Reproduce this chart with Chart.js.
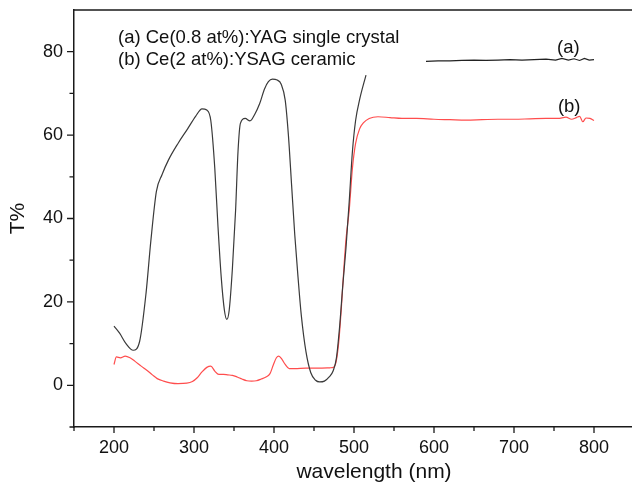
<!DOCTYPE html>
<html>
<head>
<meta charset="utf-8">
<script src="https://cdn.jsdelivr.net/npm/chart.js@4.4.1/dist/chart.umd.min.js"></script>
<style>
    html, body { margin: 0; padding: 0; background: #fff; overflow: hidden; }
    #wrap { width: 680px; height: 483px; }
</style>
</head>
<body>
<div id="wrap"><canvas id="chart" width="680" height="483"></canvas></div>
<script>
// ── Dados ──
// (a) Ce(0.8 at%):YAG — curva principal
const WL_A = [200, 207, 215, 224, 232, 240, 246, 253, 260, 268, 280, 292, 302, 310, 316, 321, 326, 330, 334, 338, 341, 344, 348, 352, 355, 358, 364, 370, 376, 382, 388, 393, 398, 404, 409, 414, 418, 422, 426, 430, 434, 440, 446, 452, 457, 463, 469, 474, 478, 482, 486, 490, 494, 498, 502, 507, 515];
const T_A  = [14.2, 12.5, 10.0, 8.4, 10.5, 22.0, 34.5, 46.5, 50.5, 54.0, 58.0, 61.5, 64.5, 66.3, 66.0, 63.5, 52.0, 38.0, 26.0, 18.0, 15.8, 18.0, 28.0, 42.0, 56.0, 62.8, 64.0, 63.4, 65.0, 67.5, 71.0, 72.8, 73.4, 73.2, 72.2, 68.4, 60.0, 48.0, 36.0, 26.0, 17.0, 8.0, 3.0, 1.2, 0.8, 1.0, 2.0, 3.5, 6.5, 14.0, 24.0, 33.0, 44.0, 56.0, 63.5, 68.5, 74.4];
// (a) trecho plano 590–800 nm
const WL_A2 = [590, 605, 620, 635, 650, 665, 680, 695, 710, 725, 740, 752, 760, 768, 775, 782, 788, 794, 800];
const T_A2  = [77.7, 77.8, 77.8, 77.9, 78.0, 77.9, 78.0, 78.1, 78.0, 78.1, 78.2, 78.0, 78.4, 78.0, 78.3, 77.9, 78.4, 78.0, 78.1];
// (b) Ce(2 at%):YSAG
const WL_B = [200, 203, 208, 214, 220, 226, 234, 241, 248, 254, 262, 270, 280, 291, 298, 304, 310, 316, 321, 326, 331, 337, 342, 348, 354, 360, 366, 372, 378, 384, 390, 395, 399, 403, 406, 410, 414, 419, 426, 440, 455, 470, 475, 478, 481, 484, 487, 490, 494, 498, 502, 507, 512, 519, 530, 545, 560, 578, 600, 620, 640, 660, 680, 700, 720, 740, 755, 765, 772, 778, 782, 786, 790, 795, 800];
const T_B  = [5.0, 6.8, 6.6, 7.0, 6.6, 5.8, 4.6, 3.6, 2.5, 1.6, 1.0, 0.6, 0.4, 0.5, 0.9, 1.8, 3.2, 4.3, 4.6, 3.4, 2.6, 2.6, 2.5, 2.4, 2.0, 1.5, 1.1, 1.0, 1.1, 1.5, 2.0, 2.8, 4.8, 6.6, 7.0, 6.2, 5.0, 4.0, 4.0, 4.1, 4.1, 4.2, 4.4, 6.0, 10.5, 18.0, 27.0, 35.0, 42.0, 52.0, 58.0, 61.5, 63.0, 64.0, 64.4, 64.2, 64.0, 64.0, 63.8, 63.7, 63.6, 63.7, 63.8, 63.8, 63.9, 64.0, 64.0, 64.3, 63.8, 64.2, 64.5, 63.2, 64.1, 64.0, 63.5];

// ── Eixos ──
const X_MIN = 150, X_MAX = 900;
const Y_MIN = -10, Y_MAX = 90;
const X_TICKS = [200, 300, 400, 500, 600, 700, 800];
const X_MINOR = [150, 250, 350, 450, 550, 650, 750, 850];
const Y_TICKS = [0, 20, 40, 60, 80];
const Y_MINOR = [-10, 10, 30, 50, 70];

// ── Anotações (coordenadas em unidades dos eixos) ──
const NOTAS = [
    { text: '(a) Ce(0.8 at%):YAG single crystal', x: 205, y: 83.3, align: 'left' },
    { text: '(b) Ce(2 at%):YSAG ceramic',          x: 205, y: 78.0, align: 'left' },
    { text: '(a)', x: 768, y: 81.0, align: 'center' },
    { text: '(b)', x: 769, y: 66.8, align: 'center' },
];

const FONTE = 'Arial, "Liberation Sans", sans-serif';
const EIXO  = '#1a1a1a';
const PRETO = '#3a3a3a';
const VERMELHO = '#ff4d4d';

const pares = (xs, ys) => xs.map((v, i) => ({ x: v, y: ys[i] }));

// Moldura superior/direita, ticks maiores/menores e textos
const moldura = {
    id: 'moldura',
    afterDraw(chart) {
        const { ctx, chartArea: a, scales: { x, y } } = chart;
        ctx.save();
        ctx.strokeStyle = EIXO;
        ctx.lineWidth = 1.5;
        ctx.beginPath();
        ctx.moveTo(a.left, a.top);
        ctx.lineTo(a.right, a.top);
        ctx.lineTo(a.right, a.bottom);
        ctx.stroke();

        ctx.lineWidth = 1.3;
        ctx.beginPath();
        X_TICKS.forEach(v => { const p = x.getPixelForValue(v); ctx.moveTo(p, a.bottom); ctx.lineTo(p, a.bottom + 6); });
        X_MINOR.forEach(v => { const p = x.getPixelForValue(v); ctx.moveTo(p, a.bottom); ctx.lineTo(p, a.bottom + 4); });
        Y_TICKS.forEach(v => { const p = y.getPixelForValue(v); ctx.moveTo(a.left, p); ctx.lineTo(a.left - 7, p); });
        Y_MINOR.forEach(v => { const p = y.getPixelForValue(v); ctx.moveTo(a.left, p); ctx.lineTo(a.left - 4.5, p); });
        ctx.stroke();

        ctx.fillStyle = '#111';
        ctx.font = '18.5px ' + FONTE;
        ctx.textBaseline = 'middle';
        NOTAS.forEach(n => {
            ctx.textAlign = n.align;
            ctx.fillText(n.text, x.getPixelForValue(n.x), y.getPixelForValue(n.y));
        });
        ctx.restore();
    }
};

new Chart(document.getElementById('chart'), {
    type: 'line',
    data: {
        datasets: [
            { data: pares(WL_A, T_A),   borderColor: PRETO,    borderWidth: 1.2 },
            { data: pares(WL_A2, T_A2), borderColor: '#222',   borderWidth: 1.2, cubicInterpolationMode: 'default', tension: 0 },
            { data: pares(WL_B, T_B),   borderColor: VERMELHO, borderWidth: 1.2 },
        ]
    },
    options: {
        responsive: false,
        animation: false,
        elements: { point: { radius: 0 }, line: { cubicInterpolationMode: 'monotone' } },
        layout: { padding: { top: 10, right: 6, left: 0, bottom: 0 } },
        plugins: { legend: { display: false }, tooltip: { enabled: false } },
        scales: {
            x: {
                type: 'linear',
                min: X_MIN, max: X_MAX,
                afterFit: s => { s.height = 56; s.paddingLeft = 0; s.paddingRight = 0; },
                afterBuildTicks: s => { s.ticks = X_TICKS.map(v => ({ value: v })); },
                grid: { display: false, drawTicks: false },
                border: { display: true, color: EIXO, width: 1.5 },
                ticks: { color: '#111', padding: 10, maxRotation: 0, font: { family: FONTE, size: 18 } },
                title: { display: true, text: 'wavelength (nm)', color: '#111', padding: { top: 0, bottom: 0 }, font: { family: FONTE, size: 21, lineHeight: 1 } }
            },
            y: {
                min: Y_MIN, max: Y_MAX,
                afterFit: s => { s.width = 74; s.paddingTop = 0; s.paddingBottom = 0; },
                afterBuildTicks: s => { s.ticks = Y_TICKS.map(v => ({ value: v })); },
                grid: { display: false, drawTicks: false },
                border: { display: true, color: EIXO, width: 1.5 },
                ticks: { color: '#111', padding: 11, font: { family: FONTE, size: 18 } },
                title: { display: true, text: 'T%', color: '#111', padding: { top: 8, bottom: 0 }, font: { family: FONTE, size: 21, lineHeight: 1 } }
            }
        }
    },
    plugins: [moldura]
});
</script>
</body>
</html>
